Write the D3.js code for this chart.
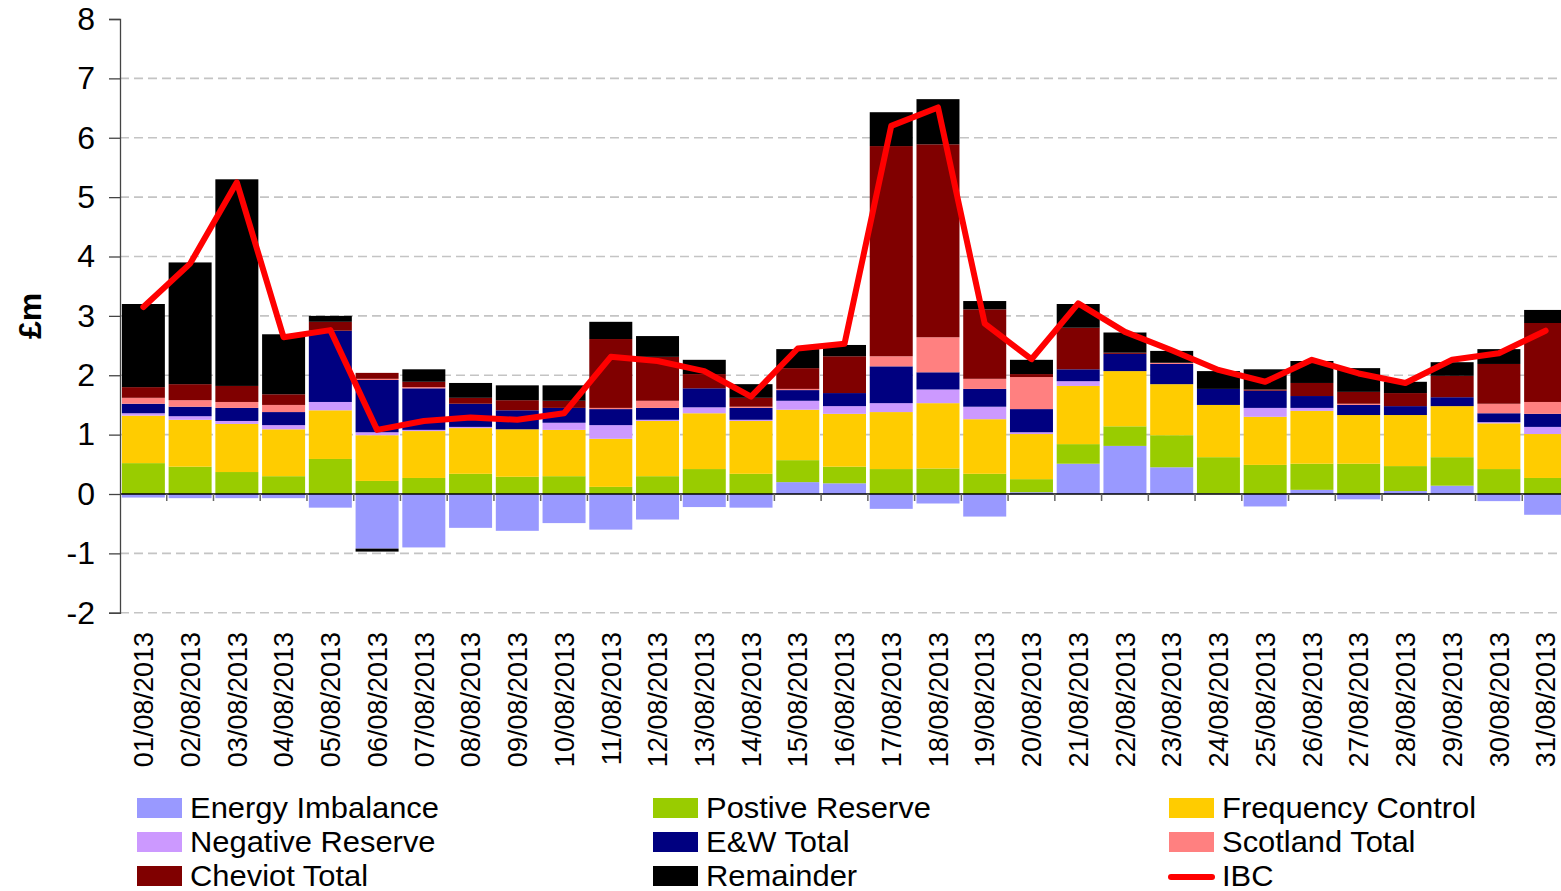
<!DOCTYPE html>
<html>
<head>
<meta charset="utf-8">
<script src="https://cdnjs.cloudflare.com/ajax/libs/d3/7.8.5/d3.min.js"></script>
<style>
  body { margin: 0; background: #fff; }
  svg { display: block; font-family: "Liberation Sans", Arial, sans-serif; }
</style>
</head>
<body>
<div class="graph"></div>
<script>
var dates = ['01/08/2013','02/08/2013','03/08/2013','04/08/2013','05/08/2013','06/08/2013','07/08/2013','08/08/2013',
             '09/08/2013','10/08/2013','11/08/2013','12/08/2013','13/08/2013','14/08/2013','15/08/2013','16/08/2013',
             '17/08/2013','18/08/2013','19/08/2013','20/08/2013','21/08/2013','22/08/2013','23/08/2013','24/08/2013',
             '25/08/2013','26/08/2013','27/08/2013','28/08/2013','29/08/2013','30/08/2013','31/08/2013'];

// £m per day
var energyImbalance = [-0.06,-0.07,-0.07,-0.07,-0.23,-0.92,-0.90,-0.57,-0.62,-0.49,-0.60,-0.43,-0.22,-0.23,0.20,0.18,
                       -0.25,-0.16,-0.38,0.03,0.51,0.81,0.45,0.01,-0.21,0.07,-0.09,0.05,0.14,-0.12,-0.35];
var positiveReserve = [0.52,0.46,0.37,0.30,0.59,0.22,0.27,0.34,0.29,0.30,0.12,0.30,0.42,0.34,0.37,0.28,
                       0.42,0.43,0.34,0.22,0.33,0.33,0.54,0.61,0.49,0.44,0.51,0.42,0.48,0.42,0.27];
var frequencyControl = [0.80,0.79,0.81,0.79,0.82,0.77,0.79,0.77,0.80,0.78,0.81,0.93,0.94,0.89,0.85,0.89,
                        0.96,1.10,0.92,0.76,0.98,0.93,0.86,0.88,0.81,0.89,0.82,0.86,0.86,0.77,0.74];
var negativeReserve = [0.04,0.06,0.05,0.07,0.14,0.05,0.02,0.02,0.00,0.12,0.23,0.02,0.10,0.02,0.15,0.13,
                       0.15,0.23,0.21,0.03,0.08,0.00,0.00,0.00,0.15,0.05,0.00,0.00,0.00,0.02,0.12];
var ewTotal = [0.16,0.16,0.22,0.22,1.20,0.88,0.70,0.39,0.32,0.25,0.27,0.20,0.32,0.20,0.18,0.22,
               0.62,0.29,0.30,0.39,0.20,0.29,0.34,0.27,0.29,0.20,0.17,0.15,0.15,0.15,0.22];
var scotlandTotal = [0.10,0.11,0.10,0.12,0.00,0.02,0.02,0.00,0.00,0.00,0.02,0.12,0.00,0.02,0.02,0.00,
                     0.17,0.59,0.17,0.54,0.00,0.00,0.02,0.00,0.00,0.00,0.02,0.00,0.00,0.16,0.20];
var cheviotTotal = [0.18,0.27,0.27,0.18,0.15,0.10,0.09,0.10,0.17,0.12,1.16,0.74,0.24,0.15,0.35,0.62,
                    3.54,3.25,1.17,0.05,0.70,0.02,0.00,0.00,0.02,0.22,0.20,0.22,0.36,0.67,1.33];
var remainder = [1.40,2.05,3.48,1.01,0.10,-0.05,0.21,0.25,0.25,0.26,0.29,0.35,0.24,0.23,0.32,0.19,
                 0.57,0.76,0.14,0.24,0.40,0.34,0.20,0.30,0.34,0.37,0.40,0.19,0.23,0.25,0.22];
var ibc = [3.15,3.88,5.25,2.64,2.76,1.08,1.23,1.29,1.25,1.36,2.31,2.24,2.07,1.64,2.45,2.53,
           6.20,6.51,2.87,2.27,3.21,2.73,2.42,2.09,1.89,2.26,2.03,1.87,2.26,2.37,2.75];

var seriesNames = ['Energy Imbalance','Postive Reserve','Frequency Control','Negative Reserve',
                   'E&W Total','Scotland Total','Cheviot Total','Remainder'];
var seriesValues = [energyImbalance, positiveReserve, frequencyControl, negativeReserve,
                    ewTotal, scotlandTotal, cheviotTotal, remainder];
var yTicks = [-2,-1,0,1,2,3,4,5,6,7,8];

var colors = ['#9999ff','#99cc00','#ffcc00','#cc99ff','#000080','#ff8080','#800000','#000000'];

var width = 1561, height = 891;
var margin = {top: 19, left: 120, right: -8, bottom: 278};

var table = dates.map(function(d, i) {
  var row = {date: d};
  seriesNames.forEach(function(name, j) { row[name] = seriesValues[j][i]; });
  return row;
});

var x = d3.scaleBand().domain(dates).range([margin.left, width - margin.right]).paddingInner(0.08).paddingOuter(0.04);
var y = d3.scaleLinear().domain([-2, 8]).range([height - margin.bottom - 0.25, margin.top]);
var color = d3.scaleOrdinal().domain(seriesNames).range(colors);

var svg = d3.select('.graph').append('svg')
            .attr('width', width)
            .attr('height', height);

// grid
svg.append('g')
   .attr('class', 'grid')
   .selectAll('line')
   .data(yTicks.filter(function(t) { return t !== 0 && t !== 8; }))
   .enter()
   .append('line')
   .attr('x1', margin.left)
   .attr('x2', width)
   .attr('y1', function(t) { return y(t); })
   .attr('y2', function(t) { return y(t); })
   .attr('stroke', '#c4c4c4')
   .attr('stroke-width', 1.6)
   .attr('stroke-dasharray', '9,5');

var stack = d3.stack().keys(seriesNames).offset(d3.stackOffsetDiverging);
var layers = stack(table);

svg.append('g')
   .selectAll('g')
   .data(layers)
   .enter()
   .append('g')
   .attr('fill', function(layer) { return color(layer.key); })
   .selectAll('rect')
   .data(function(layer) { return layer; })
   .enter()
   .append('rect')
   .attr('x', function(d) { return x(d.data.date); })
   .attr('width', x.bandwidth())
   .attr('y', function(d) { return y(Math.max(d[0], d[1])); })
   .attr('height', function(d) { return Math.abs(y(d[0]) - y(d[1])); });

// zero line with category ticks
svg.append('line')
   .attr('x1', margin.left).attr('x2', width)
   .attr('y1', y(0)).attr('y2', y(0))
   .attr('stroke', '#000')
   .attr('stroke-width', 1.5);

svg.append('g')
   .selectAll('line')
   .data(dates.slice(1))
   .enter()
   .append('line')
   .attr('x1', function(d) { return x(d) - x.step() * x.paddingInner() / 2; })
   .attr('x2', function(d) { return x(d) - x.step() * x.paddingInner() / 2; })
   .attr('y1', y(0))
   .attr('y2', y(0) + 7)
   .attr('stroke', '#666')
   .attr('stroke-width', 1.5);

// y axis
var yAxis = d3.axisLeft(y)
              .tickValues(yTicks)
              .tickSize(11)
              .tickPadding(14)
              .tickFormat(function(d) { return String(d); });

var yg = svg.append('g')
            .attr('transform', 'translate(' + margin.left + ',0)')
            .call(yAxis);
yg.selectAll('text').attr('font-size', 32).attr('fill', '#000').attr('font-family', '"Liberation Sans", Arial, sans-serif');
yg.selectAll('line, path').attr('stroke', '#444').attr('stroke-width', 1.3);

svg.append('text')
   .attr('transform', 'translate(41,' + y(3) + ') rotate(-90)')
   .attr('text-anchor', 'middle')
   .attr('font-size', 32)
   .attr('font-weight', 'bold')
   .text('£m');

// date labels
svg.append('g')
   .selectAll('text')
   .data(dates)
   .enter()
   .append('text')
   .attr('transform', function(d) { return 'translate(' + (x(d) + x.bandwidth() / 2) + ',632) rotate(-90)'; })
   .attr('dy', '0.36em')
   .attr('text-anchor', 'end')
   .attr('font-size', 27)
   .text(function(d) { return d; });

// IBC line
var line = d3.line()
             .x(function(d, i) { return x(dates[i]) + x.bandwidth() / 2; })
             .y(function(d) { return y(d); });

svg.append('path')
   .datum(ibc)
   .attr('fill', 'none')
   .attr('stroke', '#ff0000')
   .attr('stroke-width', 6)
   .attr('stroke-linejoin', 'round')
   .attr('stroke-linecap', 'round')
   .attr('d', line);

// legend, three columns
var legendItems = seriesNames.concat(['IBC']);
var legendOrder = [0, 1, 2, 3, 4, 5, 6, 7, 8];
var colX = [137, 653, 1169];

var legend = svg.selectAll('.legend')
                .data(legendOrder)
                .enter()
                .append('g')
                .attr('class', 'legend')
                .attr('transform', function(d, i) { return 'translate(' + colX[i % 3] + ',' + (798 + Math.floor(i / 3) * 34) + ')'; });

legend.each(function(d) {
  var g = d3.select(this);
  var name = legendItems[d];
  if (name === 'IBC') {
    g.append('line')
     .attr('x1', 2).attr('x2', 43)
     .attr('y1', 11).attr('y2', 11)
     .attr('stroke', '#ff0000')
     .attr('stroke-width', 6)
     .attr('stroke-linecap', 'round');
  } else {
    g.append('rect')
     .attr('width', 45)
     .attr('height', 20)
     .attr('fill', color(name));
  }
  g.append('text')
   .attr('x', 51.5)
   .attr('y', 20)
   .attr('font-size', 30)
   .attr('transform', 'scale(1.03,1)')
   .text(name);
});
</script>
</body>
</html>
